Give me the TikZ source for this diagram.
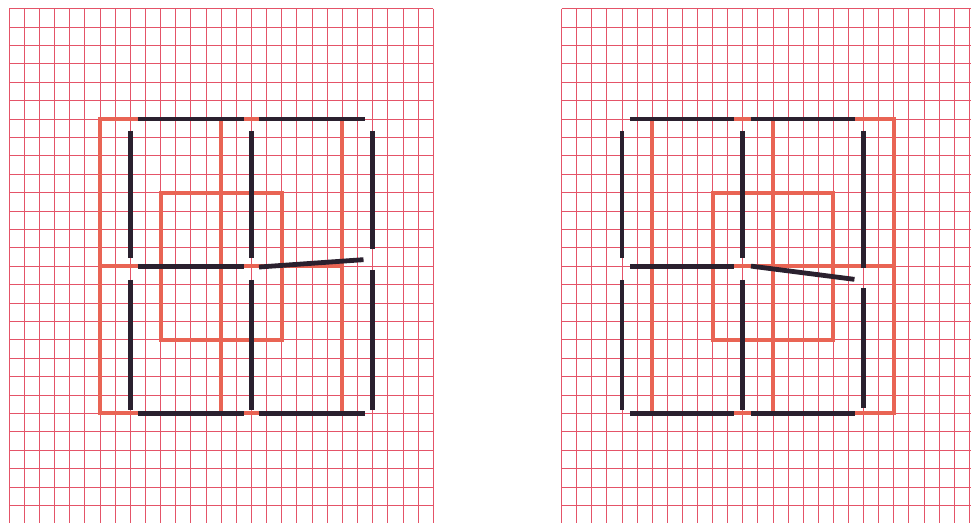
\documentclass[tikz,border=0pt]{standalone}
\usetikzlibrary{positioning}
\definecolor{gridred}{RGB}{228,84,104}
\definecolor{barred}{RGB}{233,100,84}
\definecolor{matchblk}{RGB}{42,32,46}

\begin{document}
\begin{tikzpicture}[x=1pt, y=1pt,
  gridline/.style={draw=gridred, line width=0.8pt},
  redbar/.style={draw=barred, line width=4pt, line join=miter},
  match/.style={draw=matchblk, line width=4.8pt},
]
\useasboundingbox[fill=white] (0,0) rectangle (971,-523);

% left sheet
\begin{scope}[shift={(9pt,-8.5pt)}, x=15.15pt, y=-18.4pt]
  \foreach \i in {0,...,28} \draw[gridline] (\i,0) -- (\i,27.96);
  \foreach \j in {0,...,27} \draw[gridline] (0,\j) -- (28,\j);
  \draw[redbar] (6,6) rectangle (22,22);
  \draw[redbar] (14,6) -- (14,22);
  \draw[redbar] (6,14) -- (22,14);
  \draw[redbar] (10,10) rectangle (18,18);
  \foreach \y in {6,22} {
    \draw[match] (8.5,\y) -- (15.5,\y);
    \draw[match] (16.5,\y) -- (23.5,\y);
  }
  \draw[match] (8.5,14) -- (15.5,14);
  \draw[match] (16.5,14.05) -- (23.4,13.65);
  \foreach \x in {8,16} {
    \draw[match] (\x,6.65) -- (\x,13.55);
    \draw[match] (\x,14.75) -- (\x,21.8);
  }
  \draw[match] (24,6.65) -- (24,13.05);
  \draw[match] (24,14.2) -- (24,21.8);
\end{scope}

% right sheet
\begin{scope}[shift={(561.5pt,-8.5pt)}, x=15.1pt, y=-18.4pt]
  \foreach \i in {0,...,27} \draw[gridline] (\i,0) -- (\i,27.96);
  \foreach \j in {0,...,27} \draw[gridline] (0,\j) -- (27.12,\j);
  \draw[redbar] (6,6) rectangle (22,22);
  \draw[redbar] (14,6) -- (14,22);
  \draw[redbar] (6,14) -- (22,14);
  \draw[redbar] (10,10) rectangle (18,18);
  \foreach \y in {6,22} {
    \draw[match] (4.55,\y) -- (11.45,\y);
    \draw[match] (12.55,\y) -- (19.45,\y);
  }
  \draw[match] (4.55,14) -- (11.45,14);
  \draw[match] (12.55,14) -- (19.4,14.72);
  \foreach \x in {4,12} {
    \draw[match] (\x,6.65) -- (\x,13.55);
    \draw[match] (\x,14.75) -- (\x,21.8);
  }
  \draw[match] (20,6.65) -- (20,14.1);
  \draw[match] (20,15.2) -- (20,21.7);
\end{scope}
\end{tikzpicture}
\end{document}
